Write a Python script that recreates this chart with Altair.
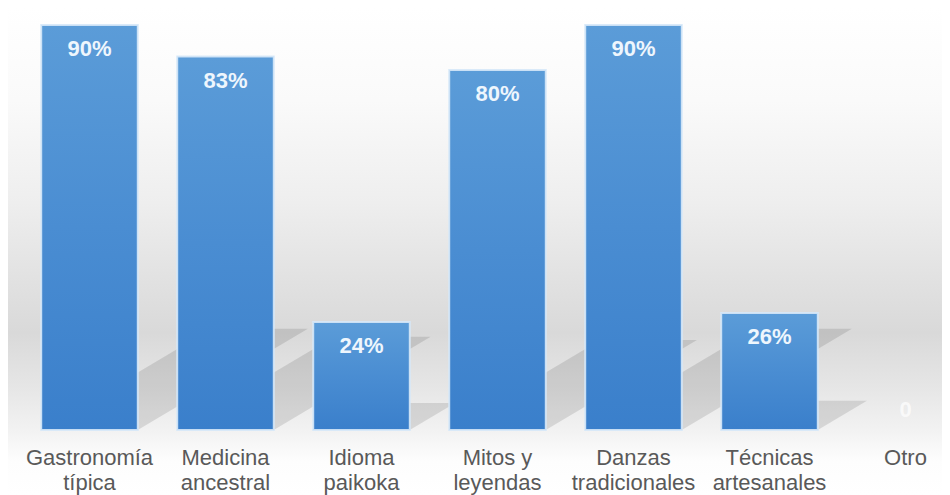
import altair as alt
import pandas as pd
import numpy as np

# ---- data ----
categories = ["Gastronomía\ntípica", "Medicina\nancestral", "Idioma\npaikoka",
              "Mitos y\nleyendas", "Danzas\ntradicionales", "Técnicas\nartesanales", "Otro"]
values = [90, 83, 24, 80, 90, 26, 0]
value_labels = ["90%", "83%", "24%", "80%", "90%", "26%", "0"]

# ---- layout / style ----
PLOT_W, PLOT_H = 920, 405
X_RANGE = 952                      # band range (extends past the visible page, like the reference)
PAD_INNER, PAD_OUTER = 0.29, 0.145
Y_MAX = 90
SHIFT_PER_UNIT = 0.42 * (PLOT_H / Y_MAX) / (X_RANGE / len(categories))   # shadow skew (band units per value)
RISE_FRAC = 0.25                                                           # shadow rise (fraction of value)
FONT = "Liberation Sans"

df = pd.DataFrame({"cat": categories, "value": values, "label": value_labels})

# perspective shadow polygons, derived from the values
rows = []
for i, (c, v) in enumerate(zip(categories, values)):
    if v <= 0:
        continue
    x0, x1 = i + PAD_OUTER, i + 1 - PAD_OUTER
    s = SHIFT_PER_UNIT * v
    r = RISE_FRAC * v
    for x in sorted([x0, x1, x0 + s, x1 + s]):
        up = r * (x - x0) / s if x <= x0 + s else r
        lo = 0.0 if x <= x1 else r * (x - x1) / s
        rows.append({"cat": c, "sx": x, "lo": lo, "hi": up})
shadow_df = pd.DataFrame(rows)

yscale = alt.Scale(domain=[0, Y_MAX], nice=False, zero=True)
xband = alt.Scale(domain=categories, range=[0, X_RANGE], paddingInner=PAD_INNER, paddingOuter=PAD_OUTER)

bg = alt.Chart(pd.DataFrame({"k": [0]})).mark_rect(
    fill=alt.Gradient(
        gradient="linear", x1=0, x2=0, y1=0, y2=1,
        stops=[
            alt.GradientStop(color="#ffffff", offset=0.0),
            alt.GradientStop(color="#fafafa", offset=0.19),
            alt.GradientStop(color="#eeeeee", offset=0.40),
            alt.GradientStop(color="#d9d9d9", offset=0.667),
            alt.GradientStop(color="#e6e6e6", offset=0.78),
            alt.GradientStop(color="#f2f2f2", offset=0.867),
            alt.GradientStop(color="#fdfdfd", offset=0.93),
            alt.GradientStop(color="#ffffff", offset=1.0),
        ],
    ),
    clip=False,
).encode(x=alt.value(-14), x2=alt.value(940), y=alt.value(-17), y2=alt.value(470))

shadow = alt.Chart(shadow_df).mark_area(color="#000000", opacity=0.11, clip=False).encode(
    x=alt.X("sx:Q", scale=alt.Scale(domain=[0, len(categories)], range=[0, X_RANGE], nice=False, zero=False), axis=None),
    y=alt.Y("lo:Q", scale=yscale, axis=None),
    y2="hi:Q",
    detail="cat:N",
)

bars = alt.Chart(df).transform_filter("datum.value > 0").mark_bar(
    fill=alt.Gradient(
        gradient="linear", x1=0, x2=0, y1=0, y2=1,
        stops=[alt.GradientStop(color="#5b9cd8", offset=0.0),
               alt.GradientStop(color="#4a8dd2", offset=0.5),
               alt.GradientStop(color="#3a7fcb", offset=1.0)],
    ),
    stroke="#d6e8f8", strokeWidth=2, strokeOpacity=0.9,
).encode(
    x=alt.X("cat:N", sort=categories, scale=xband,
            axis=alt.Axis(title=None, labelAngle=0, ticks=False, tickSize=0, domain=False,
                          labelFont=FONT, labelFontSize=22, labelColor="#595959",
                          labelBaseline="alphabetic", labelPadding=34, labelLineHeight=25,
                          labelOverlap=False, labelExpr="split(datum.label, '\\n')",
                          labelLimit=300, zindex=2)),
    y=alt.Y("value:Q", scale=yscale, axis=None),
)

labels = alt.Chart(df).transform_filter("datum.value > 0").mark_text(
    dy=31, baseline="alphabetic", font=FONT, fontSize=22, fontWeight="bold", color="#eef6fd",
).encode(
    x=alt.X("cat:N", sort=categories, scale=xband),
    y=alt.Y("value:Q", scale=yscale, axis=None),
    text="label:N",
)

zero_label = alt.Chart(df).transform_filter("datum.value <= 0").mark_text(
    dy=-13, baseline="alphabetic", font=FONT, fontSize=22, fontWeight="bold", color="#ffffff", opacity=0.7,
).encode(
    x=alt.X("cat:N", sort=categories, scale=xband),
    y=alt.Y("value:Q", scale=yscale, axis=None),
    text="label:N",
)

main = alt.layer(bars, labels, zero_label)

chart = alt.layer(bg, shadow, main).resolve_scale(x="independent").properties(
    width=PLOT_W, height=PLOT_H,
    padding={"left": 13.5, "top": 17, "right": 0, "bottom": 68},
    autosize=alt.AutoSizeParams(type="none"),
).configure_view(strokeWidth=0)

chart.save("out.html", embed_options={"renderer": "svg", "actions": False})
